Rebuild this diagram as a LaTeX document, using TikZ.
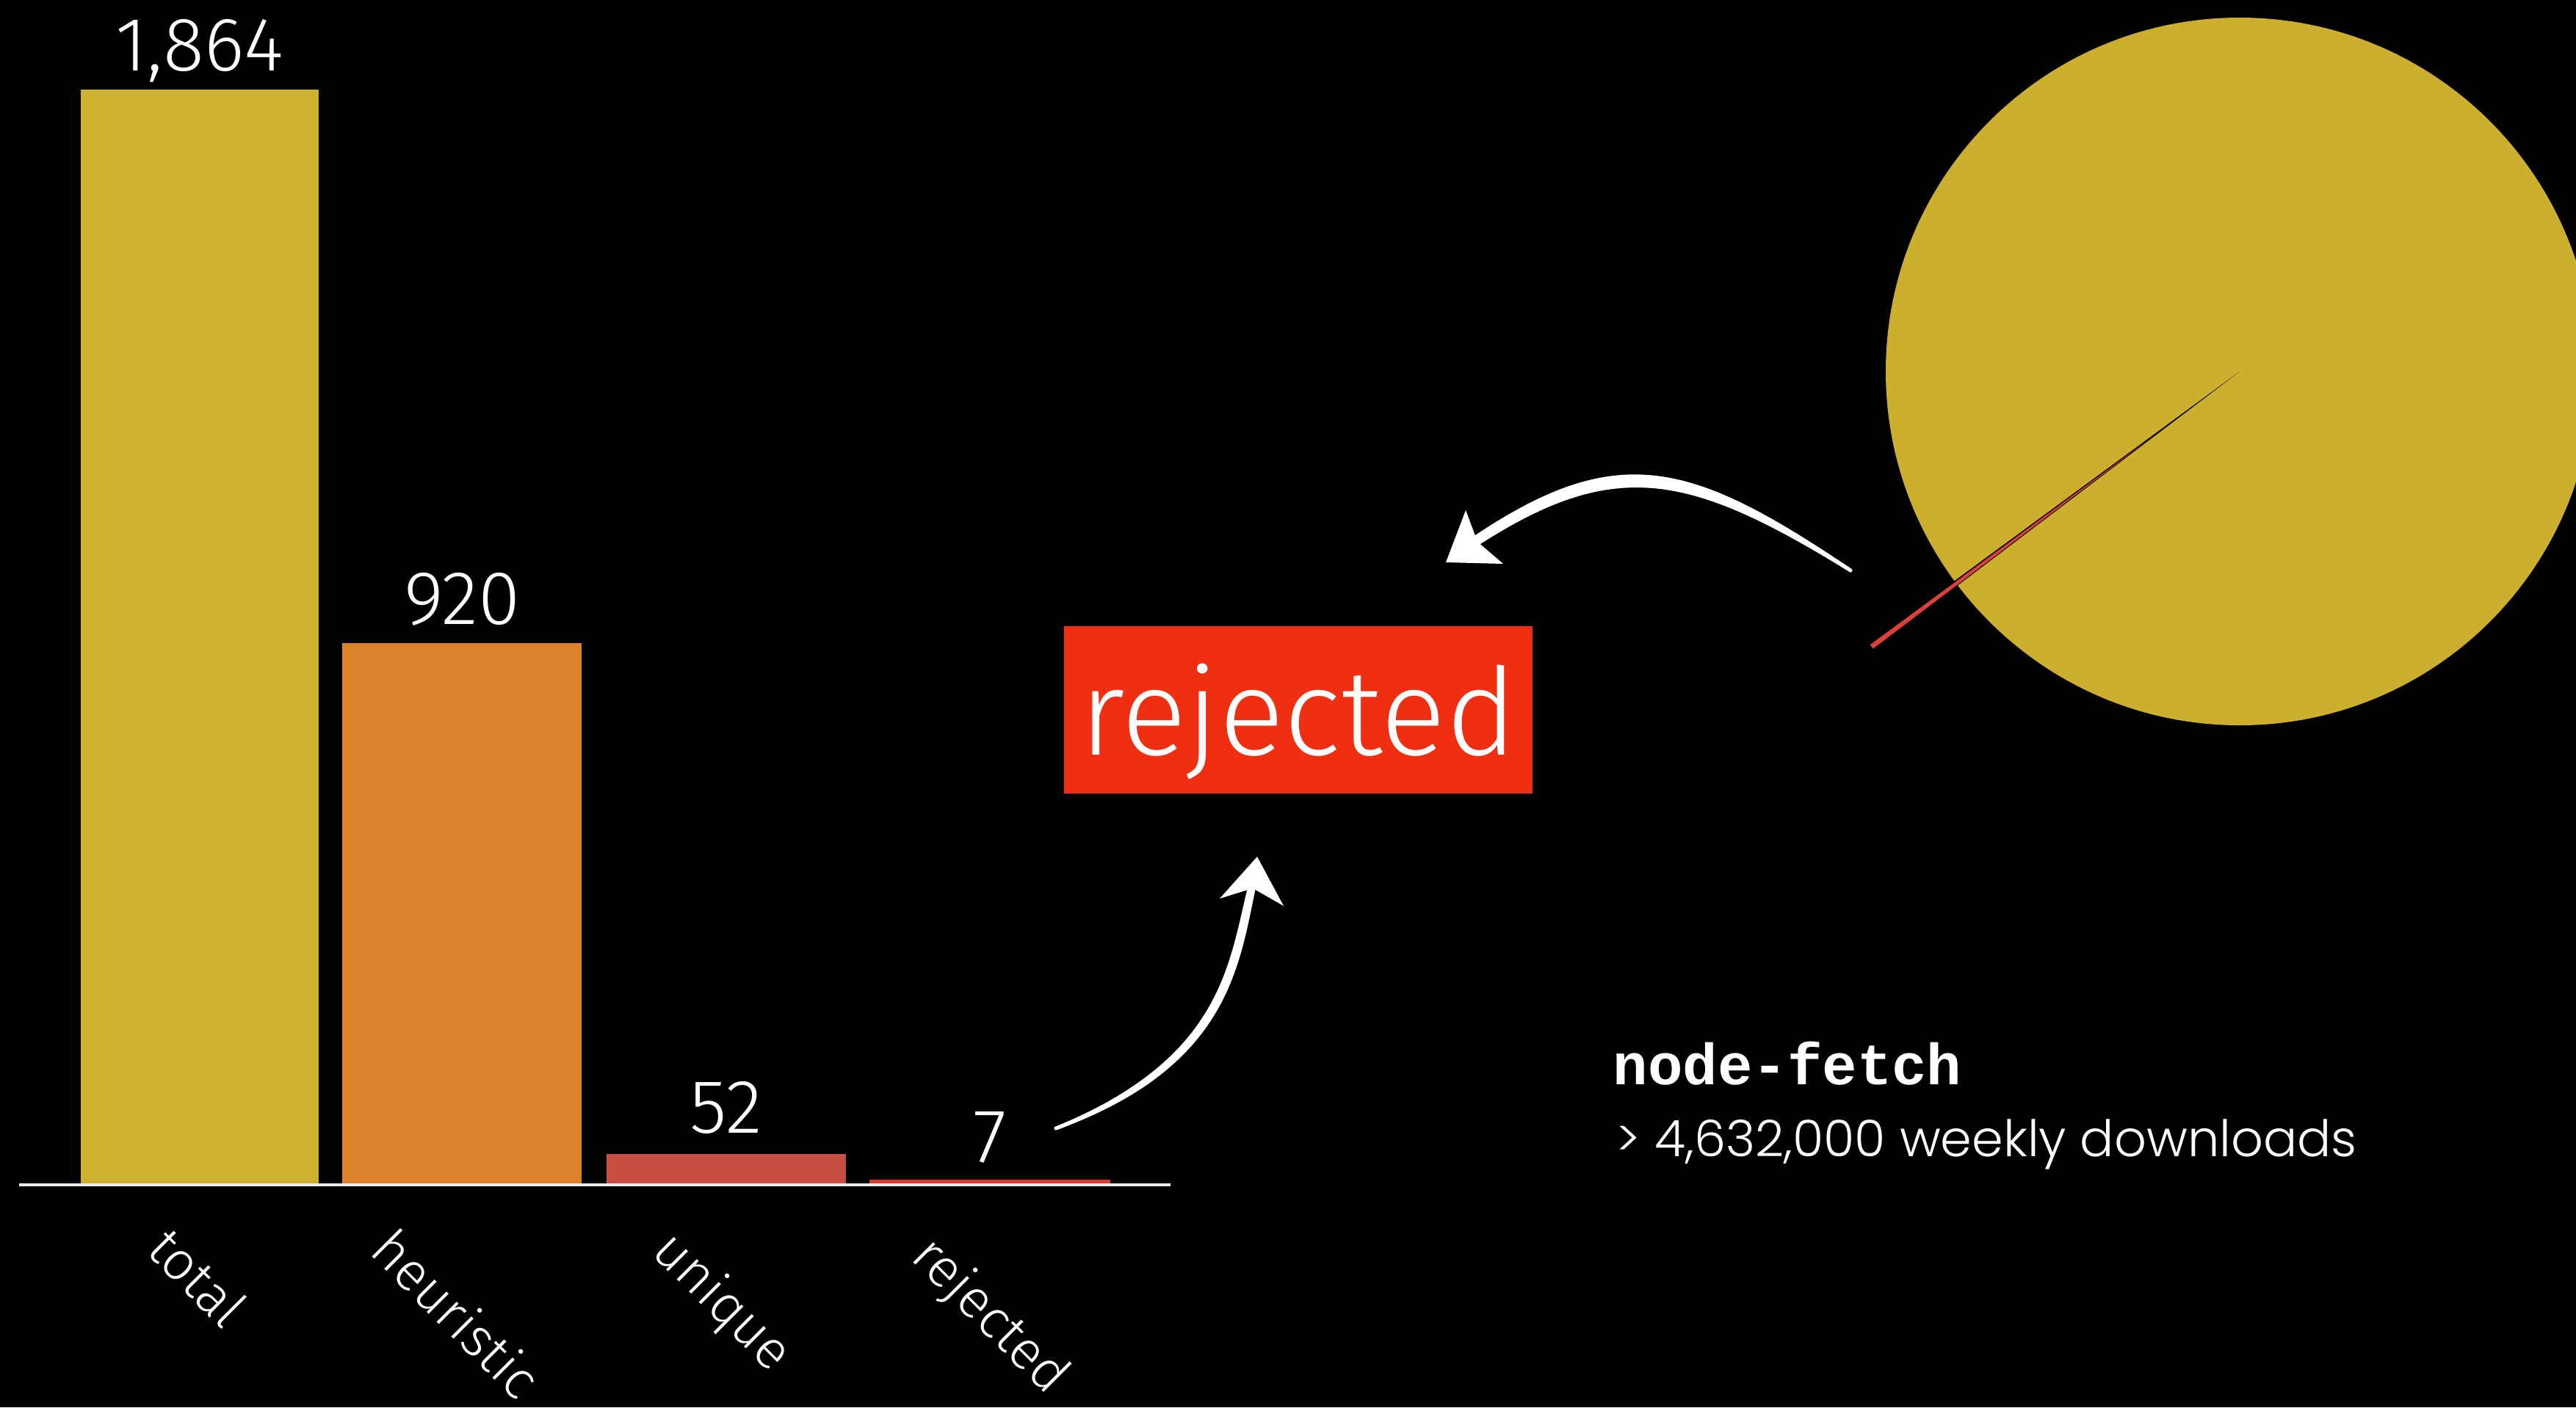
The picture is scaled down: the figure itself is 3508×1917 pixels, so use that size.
\documentclass[tikz,border=0pt]{standalone}
\usepackage{fontspec}
\usetikzlibrary{calc}
\IfFontExistsTF{Fira Sans Light}{\newfontfamily\lightsans{Fira Sans Light}}{\newfontfamily\lightsans{Liberation Sans}}
\IfFontExistsTF{Poppins Light}{\newfontfamily\geosans{Poppins Light}}{\newfontfamily\geosans{Poppins}}
\newfontfamily\monofam{Liberation Mono}
\definecolor{totalc}{HTML}{CDB030}
\definecolor{heurc}{HTML}{DC822A}
\definecolor{uniqc}{HTML}{C85041}
\definecolor{rejc}{HTML}{DC3C30}
\definecolor{boxc}{HTML}{F02E12}
\definecolor{piec}{HTML}{CDAF30}
\definecolor{slicec}{HTML}{D9413A}
\tikzset{
  val/.style={text=white, anchor=base, inner sep=0pt, font=\lightsans\fontsize{29.5}{30}\selectfont},
  cat/.style={text=white, rotate=-45, inner sep=0pt, font=\lightsans\fontsize{21}{22}\selectfont},
  rejbox/.style={fill=boxc, text=white, inner sep=0pt, minimum width=6.38cm,
    text height=1.75cm, text depth=0.53cm, anchor=base, font=\lightsans\fontsize{47}{48}\selectfont},
  brush/.style={white, line width=1.3pt, line cap=round},
  brushthin/.style={white, line width=0.8pt, line cap=round},
  brushhead/.style={fill=white},
  axisline/.style={white!85!gray, line width=0.9pt},
}
\begin{document}
\begin{tikzpicture}[x=0.01cm, y=-0.01cm]
\useasboundingbox (0,0) rectangle (3508,1917);
\clip (0,0) rectangle (3508,1917);
\fill[black] (0,0) rectangle (3508,1917);

% bars
\fill[totalc] (110,122) rectangle (434,1613);
\fill[heurc] (466,876) rectangle (792,1613);
\fill[uniqc] (826,1572) rectangle (1152,1613);
\fill[rejc] (1184,1607) rectangle (1512,1613);
\draw[axisline] (26,1614) -- (1594,1614);

% values
\node[val] (v1) at (272,96) {1,864};
\node[val] (v2) at (629,850) {920};
\node[val] (v3) at (989,1543) {52};
\node[val] (v4) at (1348,1583) {7};

% category labels
\node[cat] (c1) at (270,1740) {total};
\node[cat] (c2) at (622,1789) {heuristic};
\node[cat] (c3) at (982,1775) {unique};
\node[cat] (c4) at (1347,1794) {rejected};

% rejected box
\node[rejbox] (rej) at (1768,1028) {rejected};

% pie
\coordinate (pc) at (3050,506);
\fill[piec] (pc) circle (482);
\fill[black] (pc) -- ++(142.8:483) arc[start angle=142.8, end angle=143.7, radius=483] -- cycle;
\fill[slicec] ($(pc)+(143.2:146)$) -- ++(142.8:480) arc[start angle=142.8, end angle=143.6, radius=480] -- cycle;

% upper arrow (from pie to rejected)
\coordinate (a1s) at (2520,777);
\coordinate (a1e) at (2005,740);
\foreach \d in {-7,-3.5,0,3.5,7} {
  \draw[brush] (a1s) .. controls (2300,{635+\d}) and (2200,{610+\d}) .. ({2005+0.3*\d},{740+0.52*\d});
}
\foreach \d in {-9,9} {
  \draw[brushthin] (a1s) .. controls (2300,{635+\d}) and (2200,{610+\d}) .. ({2005+0.3*\d},{740+0.52*\d});
}
\fill[brushhead] (1969,766) -- (1996,695) -- (2012,738) -- (2047,768) -- cycle;

% lower arrow (from 7 to rejected)
\coordinate (a2s) at (1438,1537);
\coordinate (a2e) at (1705,1207);
\foreach \d in {-5,-2.5,0,2.5,5} {
  \draw[brush] (a2s) .. controls ({1668+0.4*\d},{1448+0.9*\d}) and ({1680+0.95*\d},{1317+0.3*\d}) .. ({1705+0.6*\d},{1207+0.15*\d});
}
\fill[brushhead] (1712,1167) -- (1748,1234) -- (1706,1210) -- (1661,1224) -- cycle;

% node-fetch text
\node[anchor=base west, text=white, inner sep=0pt, font=\monofam\bfseries\fontsize{22.5}{23}\selectfont] (pkg) at (2196,1477) {node-fetch};
\node[anchor=base west, text=white, inner sep=0pt, font=\geosans\fontsize{19.5}{20}\selectfont] (dl) at (2200,1575) {> 4,632,000 weekly downloads};
\end{tikzpicture}
\end{document}
